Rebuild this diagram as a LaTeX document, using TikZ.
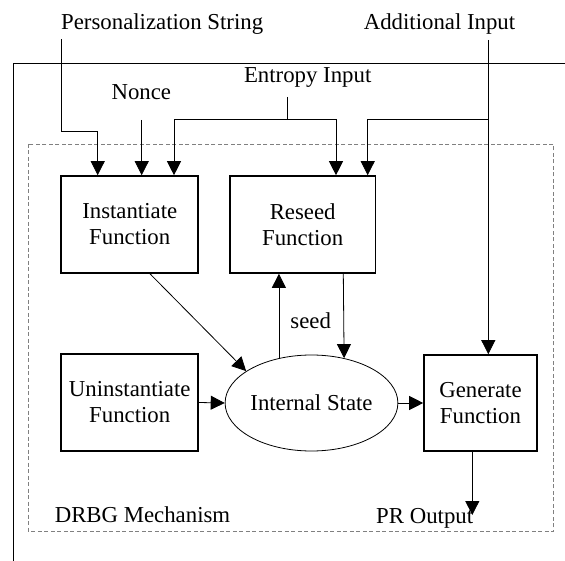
\documentclass[tikz,border=0pt]{standalone}
\usepackage{fontspec}
\setmainfont{Liberation Serif}
\newfontfamily\tmsfont{Liberation Serif}
\usetikzlibrary{arrows.meta,shapes.geometric}
\begin{document}
\begin{tikzpicture}[x=1pt,y=-1pt,
  every node/.style={font=\tmsfont\fontsize{22.8}{26}\selectfont, inner sep=0pt},
  fbox/.style={draw, line width=1.6pt, align=center, minimum width=#1, minimum height=97pt},
  arr/.style={line width=0.8pt, -{Triangle[length=14pt,width=14pt]}},
  ln/.style={line width=0.8pt},
  lbl/.style={anchor=base}]
\useasboundingbox (0,0) rectangle (565,561);
% outer frame
\draw[line width=0.8pt] (13.3,561) -- (13.3,63) -- (565,63);
% dashed mechanism border
\draw[line width=0.8pt, gray, dash pattern=on 4pt off 2.5pt] (28.8,144) rectangle (553.6,531.5);
% labels
\node[lbl] (ps) at (162.2,30) {Personalization String};
\node[lbl] (ai) at (439.5,30) {Additional Input};
\node[lbl] (ei) at (307.7,82.7) {Entropy Input};
\node[lbl] (no) at (141.3,100) {Nonce};
\node[lbl] (seed) at (310.7,329) {seed};
\node[lbl] (drbg) at (142.5,522.7) {DRBG Mechanism};
\node[lbl] (pr) at (424.7,523.3) {PR Output};
% function boxes
\node[fbox=137pt] (inst) at (129.75,224.5) {Instantiate\\Function};
\node[fbox=145.6pt] (rs) at (302.7,224.5) {Reseed\\Function};
\node[fbox=137pt] (un) at (129.75,402.5) {Uninstantiate\\Function};
\node[fbox=113pt, minimum height=96pt] (gen) at (480.5,403) {Generate\\Function};
\node[draw, ellipse, line width=0.8pt, minimum width=161.6pt, minimum height=96pt] (st) at (311.5,403) {Internal State};
% coordinates for free ends
\coordinate (psA) at (61,39.5);
\coordinate (noA) at (141.7,120);
\coordinate (eiA) at (287.3,97);
\coordinate (eiB) at (287.3,119);
\coordinate (aiA) at (488.3,40);
\coordinate (aiB) at (488.3,119);
\coordinate (prA) at (472.3,515);
% inputs
\draw[arr] (psA) |- (97.7,131) -- (97.7,0 |- inst.north);
\draw[arr] (noA) -- (141.7,0 |- inst.north);
\draw[ln] (eiA) -- (eiB);
\draw[arr] (eiB) -| (174,0 |- inst.north);
\draw[arr] (eiB) -| (336,0 |- rs.north);
\draw[arr] (aiA) -- (488.3,0 |- gen.north);
\draw[arr] (aiB) -| (367.7,0 |- rs.north);
% internal connections
\draw[arr] (150,0 |- inst.south) -- (st.154);
\draw[arr] (st.126.5) -- (st.126.5 |- rs.south);
\draw[arr] (343.3,0 |- rs.south) -- (st.54.2);
\draw[arr] (un.east) -- (st.west);
\draw[arr] (st.east) -- (gen.west);
\draw[arr] (472.3,0 |- gen.south) -- (prA);
\end{tikzpicture}
\end{document}
